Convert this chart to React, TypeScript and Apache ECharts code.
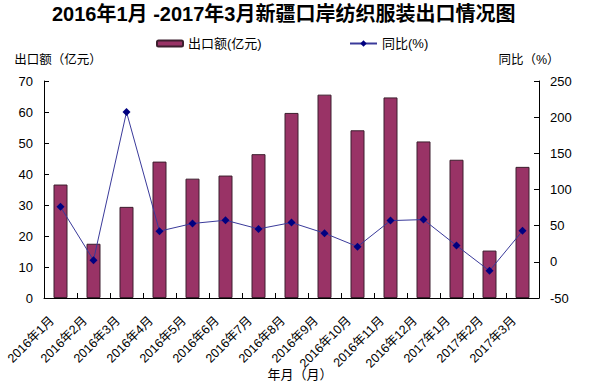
import React, { useEffect, useRef } from "react";
import * as echarts from "echarts";

const categories = [
  "2016年1月", "2016年2月", "2016年3月", "2016年4月", "2016年5月", "2016年6月",
  "2016年7月", "2016年8月", "2016年9月", "2016年10月", "2016年11月", "2016年12月",
  "2017年1月", "2017年2月", "2017年3月",
];
const exportValues = [36.6, 17.5, 29.4, 44.0, 38.5, 39.5, 46.4, 59.7, 65.6, 54.1, 64.7, 50.5, 44.6, 15.3, 42.3];
const yoyValues = [76, 2.3, 207, 42.4, 53, 57.5, 45.5, 54.3, 39.6, 21, 57, 58.4, 22.5, -12.4, 42.8];

const FONT = "'Liberation Sans', Arial, 'Noto Sans CJK SC', sans-serif";

export default function App() {
  const ref = useRef<HTMLDivElement>(null);
  useEffect(() => {
    if (!ref.current) return;
    const chart = echarts.init(ref.current, undefined, { renderer: "svg" });
    chart.setOption({
      animation: false,
      backgroundColor: "#fff",
      textStyle: { fontFamily: FONT, color: "#000" },
      title: {
        text: "2016年1月 -2017年3月新疆口岸纺织服装出口情况图",
        left: 52,
        top: 4,
        padding: 0,
        textStyle: { fontSize: 20, fontWeight: "bold", color: "#000", fontFamily: FONT },
      },
      legend: [
        {
          data: ["出口额(亿元)"],
          left: 156,
          top: 37,
          padding: 0,
          itemWidth: 26,
          itemHeight: 6,
          textStyle: { fontSize: 13, color: "#000", fontFamily: FONT },
        },
        {
          data: ["同比(%)"],
          left: 349,
          top: 37,
          padding: 0,
          itemWidth: 27,
          itemHeight: 8,
          textStyle: { fontSize: 13, color: "#000", fontFamily: FONT },
        },
      ],
      grid: { left: 44, right: 61, top: 81, bottom: 89, containLabel: false, outerBoundsMode: "none" },
      xAxis: {
        type: "category",
        data: categories,
        boundaryGap: true,
        axisLine: { show: true, lineStyle: { color: "#000", width: 1 } },
        axisTick: { show: true, inside: true, length: 5, lineStyle: { color: "#000" } },
        axisLabel: {
          rotate: 45,
          interval: 0,
          fontSize: 12.5,
          color: "#000",
          margin: 12,
          padding: [0, 12, 0, 0],
          fontFamily: FONT,
        },
        name: "年月（月）",
        nameLocation: "middle",
        nameGap: 70,
        nameMoveOverlap: false,
        nameTextStyle: { fontSize: 13, color: "#000", padding: [0, 0, 0, 17], fontFamily: FONT },
      },
      yAxis: [
        {
          type: "value",
          min: 0,
          max: 70,
          interval: 10,
          position: "left",
          axisLine: { show: true, lineStyle: { color: "#000", width: 1 } },
          axisTick: { show: true, inside: true, length: 5, lineStyle: { color: "#000" } },
          axisLabel: { fontSize: 13, color: "#000", margin: 11, fontFamily: FONT },
          splitLine: { show: false },
          name: "出口额（亿元）",
          nameLocation: "end",
          nameGap: 15,
          nameMoveOverlap: false,
          nameTextStyle: { fontSize: 12.5, color: "#000", padding: [0, 0, 0, 28], fontFamily: FONT },
        },
        {
          type: "value",
          min: -50,
          max: 250,
          interval: 50,
          position: "right",
          axisLine: { show: true, lineStyle: { color: "#000", width: 1 } },
          axisTick: { show: true, inside: true, length: 5, lineStyle: { color: "#000" } },
          axisLabel: { fontSize: 13, color: "#000", margin: 11, fontFamily: FONT },
          splitLine: { show: false },
          name: "同比（%）",
          nameLocation: "end",
          nameGap: 15,
          nameMoveOverlap: false,
          nameTextStyle: { fontSize: 12.5, color: "#000", padding: [0, 20, 0, 0], fontFamily: FONT },
        },
      ],
      series: [
        {
          name: "出口额(亿元)",
          type: "bar",
          data: exportValues,
          barWidth: 14,
          itemStyle: { color: "#993366", borderColor: "#3d1f2e", borderWidth: 1 },
        },
        {
          name: "同比(%)",
          type: "line",
          yAxisIndex: 1,
          data: yoyValues,
          symbol: "diamond",
          symbolSize: 8,
          lineStyle: { color: "#3a3a9a", width: 1 },
          itemStyle: { color: "#000080" },
        },
      ],
    });
    return () => chart.dispose();
  }, []);
  return (
    <div
      ref={ref}
      style={{ position: "absolute", left: 0, top: 0, width: 600, height: 387 }}
    />
  );
}
